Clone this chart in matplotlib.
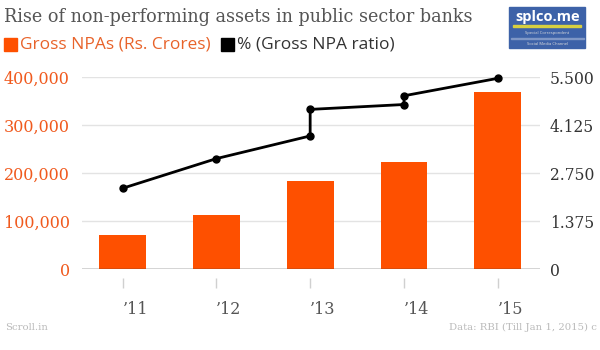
import matplotlib.pyplot as plt
from matplotlib.patches import Rectangle

# data
years = ["\u201911", "\u201912", "\u201913", "\u201914", "\u201915"]
gross_npa = [71500, 112500, 183500, 224000, 369000]

# the ratio line has two points for '13 and '14 (step up within the year)
ratio_pos = [0, 1, 2, 2, 3, 3, 4]
ratio_vals = [2.32, 3.17, 3.82, 4.58, 4.72, 4.97, 5.47]

left_ticks = [0, 100000, 200000, 300000, 400000]
right_ticks = [0, 1.375, 2.75, 4.125, 5.5]

ORANGE = "#fe5000"
TICK_ORANGE = "#f05a1e"
SERIF = "DejaVu Serif"
SANS = "Open Sans"

fig = plt.figure(figsize=(6, 3.5), dpi=100)
ax = fig.add_axes([0.137, 0.2306, 0.763, 0.5486])

# move the (hidden) bottom spine first: set_position resets the ticks
ax.spines["bottom"].set_position(("outward", 6.5))
for s in ax.spines.values():
    s.set_visible(False)

ax.bar(range(len(years)), gross_npa, width=0.5, color=ORANGE, zorder=2)
ax.set_xlim(-0.43, 4.45)
ax.set_ylim(0, 400000)
ax.set_yticks(left_ticks)
ax.set_yticklabels([f"{v:,}" for v in left_ticks], family=SERIF,
                   fontsize=11.5, color=TICK_ORANGE)
ax.tick_params(axis="y", length=0, pad=9)
ax.grid(axis="y", color="#e3e3e3", linewidth=1, zorder=0)
ax.axhline(0, color="#444444", linewidth=1, zorder=3)

# year labels sit just to the right of their tick marks
ax.set_xticks(range(len(years)))
ax.set_xticklabels(years, family=SERIF, fontsize=11.5, color="#555555",
                   ha="left")
ax.tick_params(axis="x", length=7.2, width=1, color="#d0d0d0", pad=9)

ax2 = ax.twinx()
ax2.plot(ratio_pos, ratio_vals, color="black", linewidth=2,
         marker="o", markersize=5, clip_on=False, zorder=4)
ax2.set_ylim(0, 5.5)
ax2.set_yticks(right_ticks)
ax2.set_yticklabels([f"{v:.3f}" if v else "0" for v in right_ticks],
                    family=SERIF, fontsize=11.2, color="#333333")
ax2.tick_params(axis="y", length=0, pad=7)
for s in ax2.spines.values():
    s.set_visible(False)

# title, legend, footer
fig.text(0.007, 0.951, "Rise of non-performing assets in public sector banks",
         family=SERIF, stretch="condensed", fontsize=14, color="#555555",
         va="center")
fig.patches.append(Rectangle((0.007, 0.854), 0.022, 0.037, color=ORANGE,
                             transform=fig.transFigure, figure=fig))
fig.text(0.034, 0.873, "Gross NPAs (Rs. Crores)", family=SANS,
         fontsize=12.5, color="#e8632a", va="center")
fig.patches.append(Rectangle((0.368, 0.854), 0.022, 0.037, color="black",
                             transform=fig.transFigure, figure=fig))
fig.text(0.395, 0.873, "% (Gross NPA ratio)", family=SANS,
         fontsize=12.5, color="#333333", va="center")

fig.text(0.008, 0.065, "Scroll.in", family=SERIF, fontsize=7.3,
         color="#bbbbbb", va="center")
fig.text(0.995, 0.065, "Data: RBI (Till Jan 1, 2015) c", family=SERIF,
         fontsize=7.3, color="#bbbbbb", va="center", ha="right")

# logo box
fig.patches.append(Rectangle((0.849, 0.863), 0.126, 0.117, color="#3d62a8",
                             transform=fig.transFigure, figure=fig))
fig.text(0.912, 0.950, "splco.me", family=SANS, fontsize=10.5, weight="bold",
         color="white", ha="center", va="center")
fig.patches.append(Rectangle((0.855, 0.924), 0.114, 0.005, color="#d8d040",
                             transform=fig.transFigure, figure=fig))
fig.text(0.912, 0.906, "Special Correspondent", family=SANS, fontsize=3,
         color="#dddddd", ha="center", va="center")
fig.patches.append(Rectangle((0.851, 0.889), 0.122, 0.002, color="#7f97c6",
                             transform=fig.transFigure, figure=fig))
fig.text(0.912, 0.875, "Social Media Channel", family=SANS, fontsize=3,
         color="#dddddd", ha="center", va="center")

fig.savefig("out.png", dpi=100)
